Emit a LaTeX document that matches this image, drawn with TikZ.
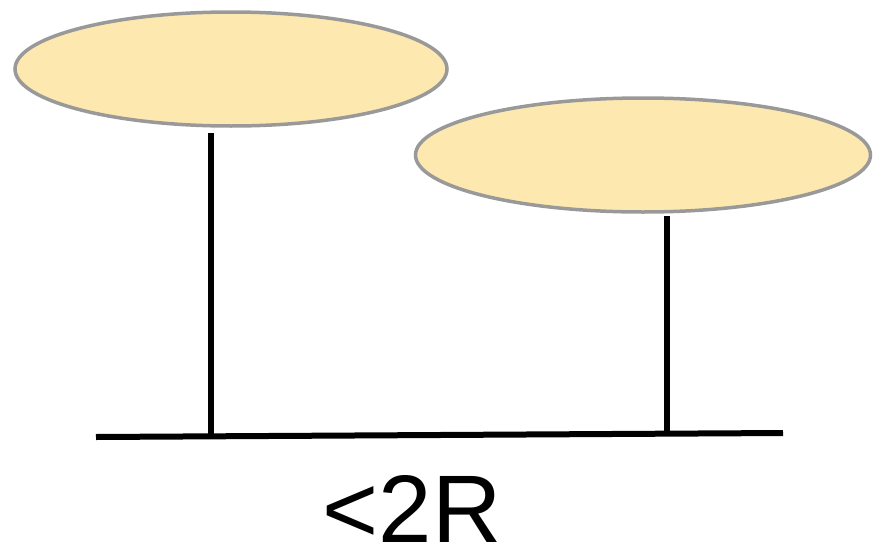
\documentclass[tikz,border=0pt]{standalone}
\usepackage{fontspec}
\setmainfont{Liberation Sans}
\usetikzlibrary{shapes.geometric}
\definecolor{capfill}{HTML}{FDE8B0}
\definecolor{capedge}{HTML}{999999}
\begin{document}
\begin{tikzpicture}[x=1pt,y=-1pt,
  disc/.style={ellipse,draw=capedge,fill=capfill,line width=3.5pt,inner sep=0pt},
  stem/.style={line width=6pt,black}]
\useasboundingbox (0,0) rectangle (873,549);
\node[disc,minimum width=432,minimum height=114] (c1) at (231,69) {};
\node[disc,minimum width=455,minimum height=114] (c2) at (643,155) {};
\coordinate (t1) at (211,133);
\coordinate (b1) at (211,436);
\coordinate (t2) at (667,216);
\coordinate (b2) at (667,434);
\coordinate (gl) at (96,437);
\coordinate (gr) at (783,433);
\draw[stem] (t1) -- (b1);
\draw[stem] (t2) -- (b2);
\draw[stem] (gl) -- (gr);
\node[font=\fontsize{96}{98}\selectfont,inner sep=0pt,anchor=base] (lbl) at (412,542) {<2R};
\end{tikzpicture}
\end{document}
